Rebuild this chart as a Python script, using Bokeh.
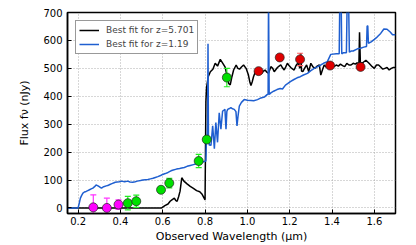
from bokeh.plotting import figure
from bokeh.models import Range1d, FixedTicker, Legend, LegendItem
from bokeh.embed import file_html
from bokeh.resources import INLINE

# ---- data ----
x_ticks = [0.2, 0.4, 0.6, 0.8, 1.0, 1.2, 1.4, 1.6]
x_tick_labels = ["0.2", "0.4", "0.6", "0.8", "1.0", "1.2", "1.4", "1.6"]
y_ticks = [0, 100, 200, 300, 400, 500, 600, 700]

black_x = [0.15, 0.595, 0.61, 0.625, 0.635, 0.645, 0.655, 0.662, 0.668, 0.675, 0.682, 0.69, 0.70,
           0.715, 0.73, 0.745, 0.76, 0.775, 0.785, 0.795, 0.80, 0.802, 0.804, 0.807, 0.815, 0.825,
           0.837, 0.848, 0.859, 0.872, 0.884, 0.895, 0.905, 0.912, 0.919, 0.927, 0.935, 0.947, 0.955,
           0.963, 0.972, 0.982, 0.994, 1.005, 1.012, 1.017, 1.023, 1.029, 1.041, 1.052, 1.060, 1.068,
           1.076, 1.084, 1.092, 1.10, 1.111, 1.120, 1.127, 1.135, 1.142, 1.150, 1.158, 1.166, 1.174,
           1.182, 1.189, 1.197, 1.205, 1.213, 1.221, 1.230, 1.240, 1.248, 1.252, 1.256, 1.262, 1.270,
           1.28, 1.29, 1.30, 1.31, 1.32, 1.33, 1.34, 1.347, 1.355, 1.363, 1.372, 1.38, 1.39, 1.40,
           1.41, 1.42, 1.43, 1.44, 1.45, 1.46, 1.47, 1.48, 1.49, 1.50, 1.51, 1.52, 1.527, 1.530,
           1.534, 1.545, 1.56, 1.575, 1.59, 1.60, 1.61, 1.62, 1.63, 1.64, 1.65, 1.66, 1.67, 1.68,
           1.69, 1.70]
black_y = [0, 0, 8, 14, 24, 30, 35, 26, 24, 40, 60, 108, 96,
           86, 77, 70, 62, 58, 50, 36, 29, 200, 380, 430, 470, 488,
           497, 518, 508, 532, 518, 504, 470, 445, 441, 470, 494, 512, 500,
           497, 505, 512, 500, 476, 450, 438, 452, 470, 494, 488, 486, 482,
           490, 494, 486, 482, 506, 500, 488, 496, 503, 508, 512, 502, 494,
           506, 518, 510, 503, 498, 494, 510, 520, 500, 555, 490, 488, 500,
           512, 488, 518, 505, 500, 508, 512, 476, 495, 512, 505, 506, 518, 510,
           506, 512, 508, 515, 510, 506, 518, 512, 512, 518, 515, 520, 510, 629,
           520, 520, 529, 518, 506, 500, 512, 512, 505, 497, 500, 503, 494, 500,
           503, 503]

blue_x = [0.15, 0.20, 0.205, 0.211, 0.217, 0.223, 0.23, 0.238, 0.246, 0.254, 0.262, 0.27, 0.278,
          0.285, 0.292, 0.30, 0.306, 0.311, 0.318, 0.325, 0.333, 0.34, 0.35, 0.36, 0.37, 0.375,
          0.385, 0.395, 0.405, 0.42, 0.435, 0.445, 0.458, 0.47, 0.48, 0.495, 0.506, 0.518, 0.53,
          0.542, 0.554, 0.565, 0.577, 0.59, 0.60, 0.612, 0.625, 0.632, 0.639, 0.65, 0.665, 0.68,
          0.69, 0.702, 0.715, 0.73, 0.745, 0.765, 0.78, 0.795, 0.804, 0.806, 0.809, 0.812, 0.814,
          0.816, 0.82, 0.828, 0.836, 0.844, 0.851, 0.859, 0.867, 0.875, 0.883, 0.89, 0.894, 0.899,
          0.903, 0.907, 0.915, 0.922, 0.93, 0.938, 0.946, 0.951, 0.956, 0.962, 0.972, 0.985, 1.0,
          1.017, 1.03, 1.048, 1.064, 1.08, 1.093, 1.098, 1.100, 1.103, 1.111, 1.124, 1.14, 1.155,
          1.166, 1.18, 1.19, 1.205, 1.22, 1.235, 1.25, 1.265, 1.284, 1.30, 1.316, 1.33, 1.347,
          1.36, 1.378, 1.394, 1.42, 1.434, 1.437, 1.443, 1.446, 1.455, 1.468, 1.472, 1.478, 1.482,
          1.49, 1.50, 1.52, 1.535, 1.55, 1.563, 1.566, 1.569, 1.572, 1.585, 1.60, 1.613, 1.63,
          1.645, 1.66, 1.675, 1.686, 1.70]
blue_y = [0, 0, 15, 35, 45, 53, 57, 59, 62, 65, 68, 71, 76,
          82, 80, 76, 73, 71, 75, 77, 79, 80, 84, 87, 90, 92,
          93, 94, 96, 94, 96, 93, 92, 94, 96, 98, 100, 101, 102,
          104, 106, 109, 112, 116, 120, 123, 127, 130, 133, 136, 139, 141,
          143, 145, 149, 152, 155, 159, 163, 166, 168, 230, 240, 300, 588,
          260, 225, 224, 294, 212, 306, 235, 341, 282, 347, 350, 353, 282,
          345, 353, 356, 359, 355, 353, 345, 294, 330, 365, 378, 388, 386,
          385, 384, 388, 394, 397, 406, 406, 760, 406, 412, 418, 424, 428,
          426, 440, 445, 453, 460, 466, 470, 476, 482, 492, 500, 505, 512,
          518, 524, 550, 552, 552, 760, 760, 552, 556, 556, 760, 760, 558,
          562, 562, 570, 572, 576, 578, 652, 652, 590, 595, 604, 612, 625,
          641, 640, 630, 620, 620]

magenta_x = [0.272, 0.336, 0.391]
magenta_y = [2, 0, 12]
magenta_err = [45, 35, 17]

green_x = [0.435, 0.475, 0.592, 0.631, 0.770, 0.808, 0.903]
green_y = [17, 24, 65, 89, 168, 245, 467]
green_err = [24, 22, 8, 17, 24, 10, 33]

red_x = [1.053, 1.153, 1.249, 1.391, 1.535]
red_y = [490, 539, 532, 510, 505]
red_err = [10, 8, 22, 8, 12]

labels = ["Best fit for z=5.701", "Best fit for z=1.19"]

# ---- figure ----
FONT = "DejaVu Sans"
p = figure(width=408, height=245, x_range=Range1d(0.15, 1.70), y_range=Range1d(-20, 700),
           output_backend="svg", toolbar_location=None,
           min_border_left=67, min_border_right=13, min_border_top=12, min_border_bottom=29)
p.background_fill_color = "white"
p.border_fill_color = "white"
p.outline_line_color = "black"
p.outline_line_width = 1.5

l_black = p.line(black_x, black_y, line_color="black", line_width=1.5)
l_blue = p.line(blue_x, blue_y, line_color="#1f5fd0", line_width=1.5)


def points(xs, ys, errs, fill, bar):
    lo = [y - e for y, e in zip(ys, errs)]
    hi = [y + e for y, e in zip(ys, errs)]
    p.segment(xs, lo, xs, hi, line_color=bar, line_width=1.2)
    p.scatter(xs, lo, marker="dash", size=6, line_color=bar, line_width=1.2)
    p.scatter(xs, hi, marker="dash", size=6, line_color=bar, line_width=1.2)
    p.scatter(xs, ys, marker="circle", size=9, fill_color=fill, line_color="#222222", line_width=0.7)


points(magenta_x, magenta_y, magenta_err, "#ff00ff", "#ff33ff")
points(green_x, green_y, green_err, "#00e000", "#22ee22")
points(red_x, red_y, red_err, "#e00000", "#ff6060")

# axes
p.xaxis.ticker = FixedTicker(ticks=x_ticks)
p.xaxis.major_label_overrides = {t: s for t, s in zip(x_ticks, x_tick_labels)}
p.yaxis.ticker = FixedTicker(ticks=y_ticks)
for ax in (p.xaxis[0], p.yaxis[0]):
    ax.major_label_text_font = FONT
    ax.major_label_text_font_size = "10px"
    ax.major_label_text_color = "black"
    ax.axis_label_text_font = FONT
    ax.axis_label_text_font_size = "11px"
    ax.axis_label_text_font_style = "normal"
    ax.axis_label_text_color = "black"
    ax.major_tick_in = 4
    ax.major_tick_out = 0
    ax.minor_tick_line_color = None
    ax.axis_line_width = 1.5
    ax.axis_line_color = "black"
p.xaxis.axis_label = "Observed Wavelength (\u03bcm)"
p.yaxis.axis_label = "Flux f\u03bd (nJy)"
p.xaxis.major_label_standoff = 3
p.xaxis.axis_label_standoff = 2
p.yaxis.major_label_standoff = 5
p.yaxis.axis_label_standoff = 9

p.grid.grid_line_color = "#999999"
p.grid.grid_line_dash = "1 2"
p.grid.grid_line_width = 0.8
p.xgrid.ticker = FixedTicker(ticks=x_ticks)
p.ygrid.ticker = FixedTicker(ticks=y_ticks)

legend = Legend(items=[LegendItem(label=labels[0], renderers=[l_black]),
                       LegendItem(label=labels[1], renderers=[l_blue])],
                location="top_left", margin=8, padding=3, spacing=2,
                glyph_width=20, glyph_height=12, label_height=12, label_standoff=7,
                label_text_font=FONT, label_text_font_size="9px",
                border_line_color="#333333", border_line_width=1,
                background_fill_color="white", background_fill_alpha=1)
p.add_layout(legend)

open("out.html", "w").write(file_html(p, INLINE))
